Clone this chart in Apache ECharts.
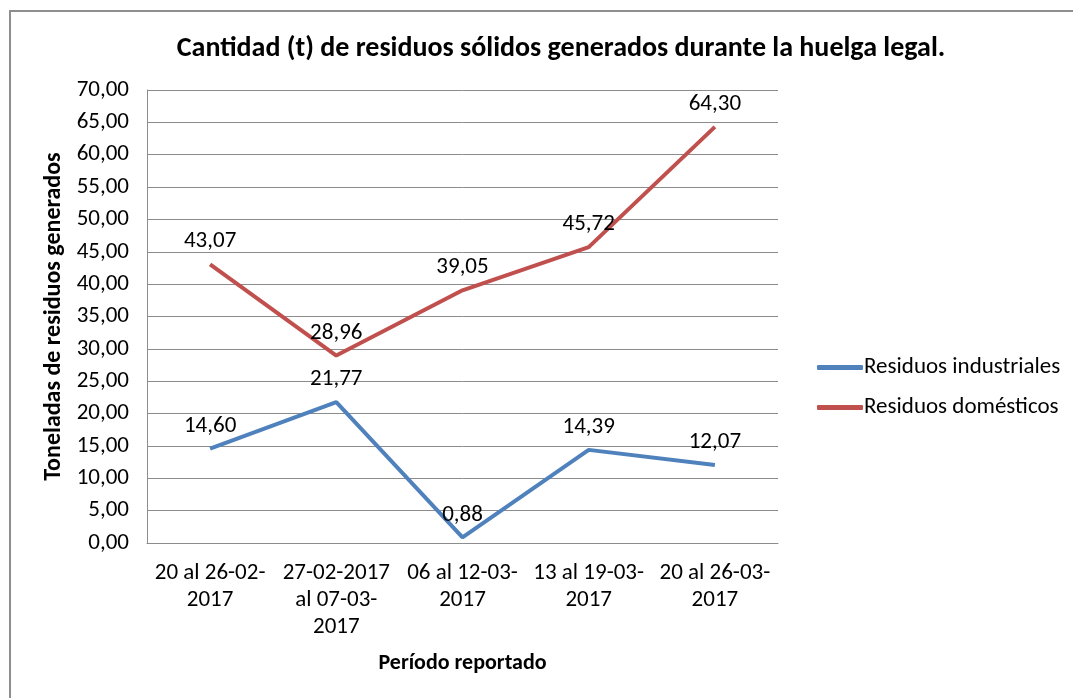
<!DOCTYPE html>
<html>
<head>
<meta charset="utf-8">
<script src="https://cdn.jsdelivr.net/npm/echarts@6/dist/echarts.min.js"></script>
<style>
  html, body { margin: 0; padding: 0; background: #fff; }
  #main { width: 1073px; height: 698px; }
</style>
</head>
<body>
<div id="main"></div>
<script>
// datos
var periodos = ['20 al 26-02-\n2017', '27-02-2017\nal 07-03-\n2017', '06 al 12-03-\n2017', '13 al 19-03-\n2017', '20 al 26-03-\n2017'];
var industriales = [14.60, 21.77, 0.88, 14.39, 12.07];
var domesticos = [43.07, 28.96, 39.05, 45.72, 64.30];
var yMin = 0, yMax = 70, yPaso = 5;

var fuente = 'Carlito, Calibri, Lato, sans-serif';

function coma (v) {
  return Number(v).toFixed(2).replace('.', ',');
}

var myChart = echarts.init(document.getElementById('main'));

var etiqueta = {
  show: true,
  position: 'top',
  distance: 11,
  color: '#000',
  fontFamily: fuente,
  fontSize: 23,
  formatter: function (p) { return coma(p.value); }
};

var option = {
  animation: false,
  color: ['#4f81bd', '#c0504d'],
  graphic: [{
    type: 'rect',
    shape: { x: 10, y: 11, width: 1100, height: 720 },
    style: { fill: 'none', stroke: '#8e8e8e', lineWidth: 2 }
  }],
  title: {
    text: 'Cantidad (t) de residuos sólidos generados durante la huelga legal.',
    left: 556,
    textAlign: 'center',
    top: 30,
    textStyle: { fontFamily: fuente, fontSize: 28, fontWeight: 'bold', color: '#000' }
  },
  legend: {
    orient: 'vertical',
    left: 812,
    top: 351,
    itemGap: 17,
    itemWidth: 46,
    itemHeight: 5,
    icon: 'roundRect',
    textStyle: { fontFamily: fuente, fontSize: 23, color: '#000', padding: [0, 0, 0, -4] },
    data: ['Residuos industriales', 'Residuos domésticos']
  },
  grid: { left: 147, right: 295, top: 90, bottom: 155 },
  xAxis: {
    type: 'category',
    data: periodos,
    name: 'Período reportado',
    nameLocation: 'middle',
    nameGap: 109,
    nameTextStyle: { fontFamily: fuente, fontSize: 22, fontWeight: 'bold', color: '#000' },
    axisLine: { lineStyle: { color: '#8c8c8c', width: 1 } },
    axisTick: { alignWithLabel: true, length: 6, lineStyle: { color: '#8c8c8c' } },
    axisLabel: { fontFamily: fuente, fontSize: 23, color: '#000', lineHeight: 27, margin: 17, interval: 0 }
  },
  yAxis: {
    type: 'value',
    min: yMin,
    max: yMax,
    interval: yPaso,
    name: 'Toneladas de residuos generados',
    nameLocation: 'middle',
    nameGap: 80,
    nameTextStyle: { fontFamily: fuente, fontSize: 24, fontWeight: 'bold', color: '#000' },
    axisLine: { show: true, lineStyle: { color: '#8c8c8c', width: 1 } },
    axisTick: { show: false },
    splitLine: { lineStyle: { color: '#8c8c8c', width: 1 } },
    axisLabel: { fontFamily: fuente, fontSize: 23, color: '#000', margin: 18, formatter: coma }
  },
  series: [
    {
      name: 'Residuos industriales',
      type: 'line',
      data: industriales,
      symbol: 'circle',
      symbolSize: 0.1,
      lineStyle: { width: 4 },
      label: etiqueta
    },
    {
      name: 'Residuos domésticos',
      type: 'line',
      data: domesticos,
      symbol: 'circle',
      symbolSize: 0.1,
      lineStyle: { width: 4 },
      label: etiqueta
    }
  ]
};

myChart.setOption(option);
</script>
</body>
</html>
